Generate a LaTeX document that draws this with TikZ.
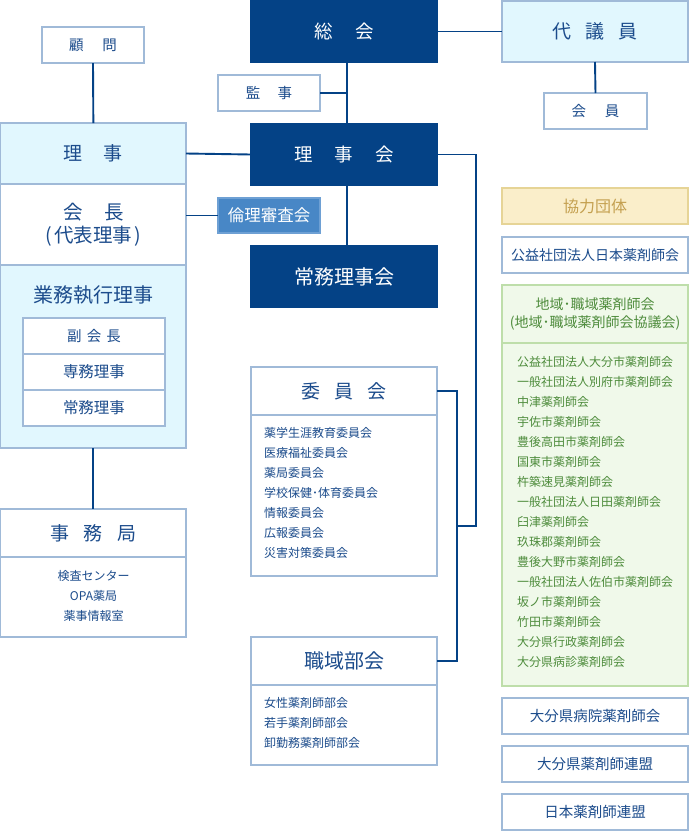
\documentclass[tikz,border=0pt]{standalone}
\usepackage{fontspec}
\setmainfont{Noto Sans CJK JP}
\definecolor{navy}{RGB}{4,66,134}
\definecolor{tblue}{RGB}{28,76,140}
\definecolor{bord}{RGB}{160,186,216}
\definecolor{cyanf}{RGB}{225,247,254}
\definecolor{midblue}{RGB}{72,135,198}
\definecolor{midbord}{RGB}{110,160,212}
\definecolor{beigef}{RGB}{250,238,202}
\definecolor{beiged}{RGB}{230,212,150}
\definecolor{beiget}{RGB}{196,160,80}
\definecolor{greenf}{RGB}{240,249,234}
\definecolor{greend}{RGB}{190,222,170}
\definecolor{greent}{RGB}{78,140,60}
\newcommand\fsz[1]{\fontsize{#1}{#1}\selectfont}
\tikzset{
  basebox/.style={anchor=north west, inner sep=0pt, outer sep=0pt, line width=1.2pt},
  navybox/.style={basebox, fill=navy, draw=navy, text=white},
  wbox/.style={basebox, fill=white, draw=bord, text=tblue},
  cbox/.style={basebox, fill=cyanf, draw=bord, text=tblue},
  mbox/.style={basebox, fill=midblue, draw=midbord, text=white},
  bbox/.style={basebox, fill=beigef, draw=beiged, text=beiget},
  gbox/.style={basebox, fill=greenf, draw=greend, text=greent},
  conn/.style={draw=navy, line width=1.9pt},
  item/.style={inner sep=0pt, outer sep=0pt, font=\fsz{12}},
}
\begin{document}
\begin{tikzpicture}[x=1pt,y=-1pt]
\useasboundingbox (0,0) rectangle (690,831);

% top centre
\node[navybox, minimum width=186pt, minimum height=61pt, font=\fsz{18.5}] (sokai) at (251,1) {総\hspace{1.2em}会};
\node[cbox, minimum width=186pt, minimum height=61pt, font=\fsz{19}] (daigiin) at (502,1) {代\hspace{0.75em}議\hspace{0.75em}員};
\node[wbox, minimum width=103pt, minimum height=36pt, font=\fsz{14.5}] (kaiin) at (544,93) {会\hspace{1.3em}員};
\node[wbox, minimum width=102pt, minimum height=36pt, font=\fsz{14.5}] (komon) at (42,27) {顧\hspace{1.3em}問};
\node[wbox, minimum width=102pt, minimum height=36pt, font=\fsz{14.5}] (kanji) at (218,75) {監\hspace{1.2em}事};
\node[navybox, minimum width=186pt, minimum height=61pt, font=\fsz{18.5}] (rijikai) at (251,124) {理\hspace{1.2em}事\hspace{1.2em}会};
\node[mbox, minimum width=102pt, minimum height=35pt, font=\fsz{16.5}] (rinri) at (218,198) {倫理審査会};
\node[navybox, minimum width=186pt, minimum height=61pt, font=\fsz{20}] (jomu) at (251,246) {常務理事会};

% left column
\node[cbox, minimum width=185.3pt, minimum height=61pt, font=\fsz{19}] (riji) at (0.7,123) {理\hspace{1.1em}事};
\node[wbox, minimum width=185.3pt, minimum height=81pt, font=\fsz{19.5}, align=center] (kaicho) at (0.7,184) {会\hspace{1.1em}長\\[4pt](\hspace{2pt}代表理事\hspace{2pt})};
\node[cbox, minimum width=185.3pt, minimum height=183pt] (gyomu) at (0.7,265) {};
\node[inner sep=0pt, text=tblue, font=\fsz{20}] (gyomuT) at (93.5,295) {業務執行理事};
\node[wbox, minimum width=142pt, minimum height=36pt, font=\fsz{14.5}] (fuku) at (23,318) {副\hspace{0.35em}会\hspace{0.35em}長};
\node[wbox, minimum width=142pt, minimum height=36pt, font=\fsz{15.5}] (senmu) at (23,354) {専務理事};
\node[wbox, minimum width=142pt, minimum height=36pt, font=\fsz{15.5}] (jomuR) at (23,390) {常務理事};

\node[wbox, minimum width=185.3pt, minimum height=48pt, font=\fsz{19}] (jimuH) at (0.7,509) {事\hspace{0.75em}務\hspace{0.75em}局};
\node[wbox, minimum width=185.3pt, minimum height=80pt] (jimuB) at (0.7,557) {};
\node[item, text=tblue] (jimu1) at (93.5,576) {検査センター};
\node[item, text=tblue] (jimu2) at (93.5,596) {OPA薬局};
\node[item, text=tblue] (jimu3) at (93.5,616) {薬事情報室};

% committees
\node[wbox, minimum width=186pt, minimum height=48pt, font=\fsz{19}] (iinH) at (251,367) {委\hspace{0.75em}員\hspace{0.75em}会};
\node[wbox, minimum width=186pt, minimum height=161pt] (iinB) at (251,415) {};
\foreach \t [count=\i] in {薬学生涯教育委員会,医療福祉委員会,薬局委員会,学校保健･体育委員会,情報委員会,広報委員会,災害対策委員会}
  \node[item, text=tblue, anchor=west] (iin\i) at (264,{433+20*(\i-1)}) {\t};

\node[wbox, minimum width=186pt, minimum height=48pt, font=\fsz{20}] (shokH) at (251,637) {職域部会};
\node[wbox, minimum width=186pt, minimum height=80pt] (shokB) at (251,685) {};
\foreach \t [count=\i] in {女性薬剤師部会,若手薬剤師部会,卸勤務薬剤師部会}
  \node[item, text=tblue, anchor=west] (shok\i) at (264,{703+20*(\i-1)}) {\t};

% right column
\node[bbox, minimum width=186pt, minimum height=36pt, font=\fsz{16}] (kyoryoku) at (502,188) {協力団体};
\node[wbox, minimum width=186pt, minimum height=36pt, font=\fsz{14}] (nichiyaku) at (502,237) {公益社団法人日本薬剤師会};
\node[gbox, minimum width=186pt, minimum height=58pt, font=\fsz{14}, align=center] (chiikiH) at (502,285) {地域･職域薬剤師会\\[4pt](地域･職域薬剤師会協議会)};
\node[gbox, minimum width=186pt, minimum height=343pt] (chiikiB) at (502,343) {};
\foreach \t [count=\i] in {公益社団法人大分市薬剤師会,一般社団法人別府市薬剤師会,中津薬剤師会,宇佐市薬剤師会,豊後高田市薬剤師会,国東市薬剤師会,杵築速見薬剤師会,一般社団法人日田薬剤師会,臼津薬剤師会,玖珠郡薬剤師会,豊後大野市薬剤師会,一般社団法人佐伯市薬剤師会,坂ノ市薬剤師会,竹田市薬剤師会,大分県行政薬剤師会,大分県病診薬剤師会}
  \node[item, text=greent, anchor=west] (chiiki\i) at (517,{362+20*(\i-1)}) {\t};
\node[wbox, minimum width=186pt, minimum height=36pt, font=\fsz{14.5}] (byoin) at (502,698) {大分県病院薬剤師会};
\node[wbox, minimum width=186pt, minimum height=36pt, font=\fsz{14.5}] (renmei) at (502,746) {大分県薬剤師連盟};
\node[wbox, minimum width=186pt, minimum height=36pt, font=\fsz{14.5}] (nichiren) at (502,794) {日本薬剤師連盟};

% connectors
\coordinate (jct) at (457,526);
\draw[conn] (sokai.east) -- (daigiin.west);
\draw[conn] (daigiin.south) -- (kaiin.north);
\draw[conn] ([xshift=3pt]sokai.south) -- ([xshift=3pt]rijikai.north);
\draw[conn] (kanji.east) -- ([xshift=3pt]kanji.east -| sokai.south);
\draw[conn] ([xshift=3pt]rijikai.south) -- ([xshift=3pt]jomu.north);
\draw[conn] (riji.east) -- (rijikai.west);
\draw[conn] (komon.south) -- (riji.north);
\draw[conn] (rinri.west) -- (rinri.west -| kaicho.east);
\draw[conn] (gyomu.south) -- (jimuH.north);
\draw[conn] (rijikai.east) -- ++(39,0) |- (jct);
\draw[conn] (iinH.east) -- (iinH.east -| jct) |- (shokH.east);
\end{tikzpicture}
\end{document}
